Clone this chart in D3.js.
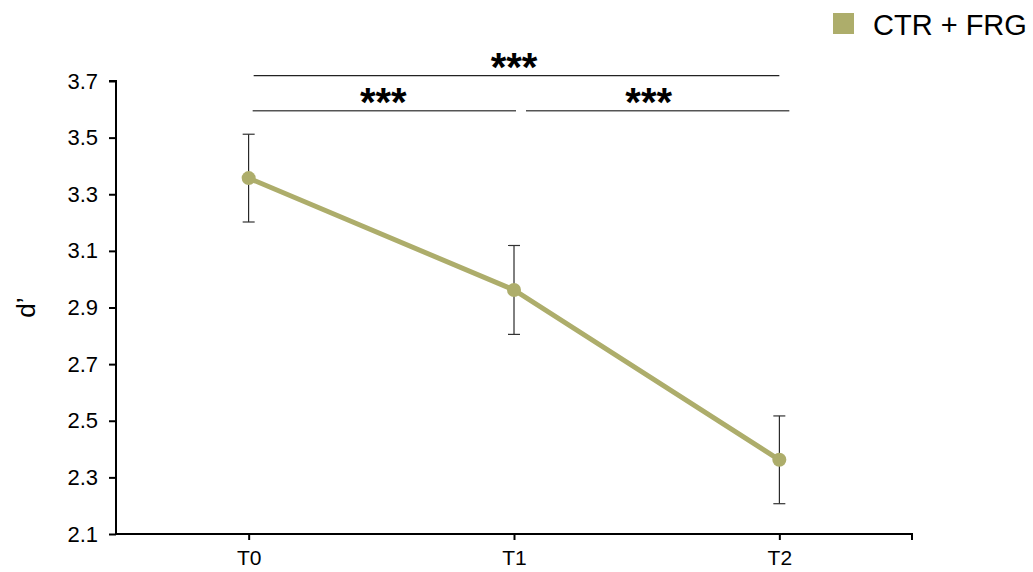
<!DOCTYPE html>
<html>
<head>
<meta charset="utf-8">
<script src="https://cdn.jsdelivr.net/npm/d3@7"></script>
<style>
  body { margin: 0; background: #fff; }
  svg { display: block; font-family: "Liberation Sans", Arial, sans-serif; }
</style>
</head>
<body>
<div id="chart-area"></div>
<script>
// data
var timePoints = ["T0", "T1", "T2"];
var meanValues = [3.357, 2.962, 2.362];
var errValues  = [0.155, 0.157, 0.155];
var yTicks = [2.1, 2.3, 2.5, 2.7, 2.9, 3.1, 3.3, 3.5, 3.7];
var seriesName = "CTR + FRG";
var sigFrom  = ["T0", "T0", "T1"];
var sigTo    = ["T2", "T1", "T2"];
var sigLevel = [3.719, 3.595, 3.595];
var sigText  = ["***", "***", "***"];

var svgW = 1033, svgH = 572;
var margin = { left: 116, right: 121, top: 81, bottom: 38 };
var width = svgW - margin.left - margin.right,
    height = svgH - margin.top - margin.bottom;

var lineColor = "#adad6b";

var svg = d3.select("#chart-area").append("svg")
    .attr("width", svgW)
    .attr("height", svgH);

var g = svg.append("g")
    .attr("transform", "translate(" + margin.left + "," + margin.top + ")");

// Scales
var x = d3.scalePoint().domain(timePoints).range([0, width]).padding(0.5);
var y = d3.scaleLinear().domain([2.1, 3.7]).range([height, 0]);

// Axes
var yAxisCall = d3.axisLeft(y)
    .tickValues(yTicks)
    .tickSize(7)
    .tickPadding(11)
    .tickFormat(d3.format(".1f"));
var yAxis = g.append("g").attr("class", "y axis").call(yAxisCall);

var xAxisCall = d3.axisBottom(x).tickSize(6).tickSizeOuter(6).tickPadding(10);
var xAxis = g.append("g")
    .attr("class", "x axis")
    .attr("transform", "translate(0," + height + ")")
    .call(xAxisCall);

g.selectAll(".axis path, .axis line")
    .attr("stroke", "#000")
    .attr("stroke-width", 2);
yAxis.selectAll("text").attr("fill", "#000").style("font-size", "22px");
xAxis.selectAll("text").attr("fill", "#000").style("font-size", "21px");
yAxis.select(".domain").attr("d", "M0," + height + "V0h-7");
xAxis.select(".domain").attr("d", "M0,0H" + width + "v6");

// y label
svg.append("text")
    .attr("transform", "translate(35," + (margin.top + height / 2) + ") rotate(-90)")
    .attr("text-anchor", "middle")
    .style("font-size", "26px")
    .attr("fill", "#000")
    .text("d\u2019");

var data = timePoints.map(function(t, i) {
    return { t: t, v: meanValues[i], e: errValues[i] };
});

// error bars
var eb = g.selectAll(".err").data(data).enter().append("g").attr("class", "err");
eb.append("line")
    .attr("x1", function(d) { return x(d.t); })
    .attr("x2", function(d) { return x(d.t); })
    .attr("y1", function(d) { return y(d.v + d.e); })
    .attr("y2", function(d) { return y(d.v - d.e); })
    .attr("stroke", "#000").attr("stroke-width", 1);
[1, -1].forEach(function(s) {
    eb.append("line")
        .attr("x1", function(d) { return x(d.t) - 6; })
        .attr("x2", function(d) { return x(d.t) + 6; })
        .attr("y1", function(d) { return y(d.v + s * d.e); })
        .attr("y2", function(d) { return y(d.v + s * d.e); })
        .attr("stroke", "#333").attr("stroke-width", 1.2);
});

// Line path generator
var line = d3.line()
    .x(function(d) { return x(d.t); })
    .y(function(d) { return y(d.v); });

g.append("path")
    .attr("fill", "none")
    .attr("stroke", lineColor)
    .attr("stroke-width", 5)
    .attr("d", line(data));

g.selectAll(".dot").data(data).enter().append("circle")
    .attr("class", "dot")
    .attr("cx", function(d) { return x(d.t); })
    .attr("cy", function(d) { return y(d.v); })
    .attr("r", 7)
    .attr("fill", lineColor);

// significance brackets
var sigData = sigFrom.map(function(f, i) {
    return { from: f, to: sigTo[i], level: sigLevel[i], txt: sigText[i], top: i === 0 };
});
var sg = g.selectAll(".sig").data(sigData).enter().append("g").attr("class", "sig");
sg.append("line")
    .attr("x1", function(d) { return d.top ? x(d.from) + 5 : (d.from === "T0" ? x(d.from) + 4 : x(d.from) + 12); })
    .attr("x2", function(d) { return d.top ? x(d.to) : (d.from === "T0" ? x(d.to) + 2 : x(d.to) + 10); })
    .attr("y1", function(d) { return y(d.level); })
    .attr("y2", function(d) { return y(d.level); })
    .attr("stroke", function(d) { return d.top ? "#222" : "#555"; })
    .attr("stroke-width", function(d) { return d.top ? 1.3 : 1.6; });
sg.append("text")
    .attr("x", function(d) { return (x(d.from) + x(d.to)) / 2 + (d.top ? 0 : 2); })
    .attr("y", function(d) { return y(d.level) + 5; })
    .attr("text-anchor", "middle")
    .style("font-size", "40px")
    .style("font-weight", "bold")
    .attr("fill", "#000")
    .text(function(d) { return d.txt; });

// legend
var legend = svg.append("g").attr("transform", "translate(833,13)");
legend.append("rect").attr("width", 21).attr("height", 21).attr("fill", lineColor);
legend.append("text")
    .attr("x", 40).attr("y", 22)
    .style("font-size", "29px")
    .attr("fill", "#000")
    .text(seriesName);
</script>
</body>
</html>
